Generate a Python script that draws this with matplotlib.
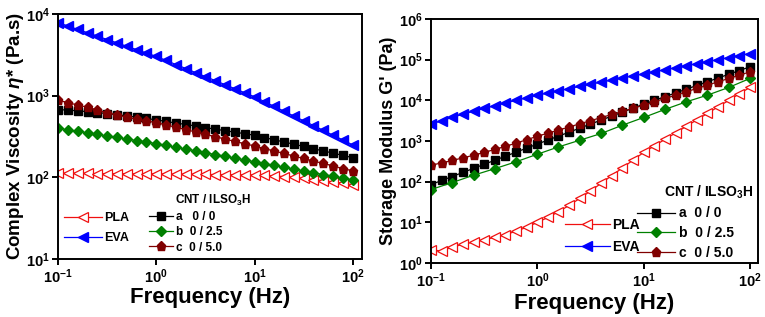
import matplotlib
matplotlib.use("Agg")
import matplotlib.pyplot as plt
from matplotlib.ticker import LogLocator, NullLocator

plt.rcParams['font.family'] = ['Liberation Sans', 'DejaVu Sans']
plt.rcParams['font.weight'] = 'bold'
plt.rcParams['axes.labelweight'] = 'bold'
plt.rcParams['mathtext.fontset'] = 'custom'
plt.rcParams['mathtext.rm'] = 'Liberation Sans:bold'
plt.rcParams['mathtext.it'] = 'Liberation Sans:bold:italic'
plt.rcParams['mathtext.bf'] = 'Liberation Sans:bold'
plt.rcParams['mathtext.default'] = 'rm'

# frequency grids (Hz)
freq = [0.1, 0.126, 0.158, 0.2, 0.251, 0.316, 0.398, 0.501, 0.631, 0.794,
        1.0, 1.26, 1.58, 2.0, 2.51, 3.16, 3.98, 5.01, 6.31, 7.94,
        10.0, 12.6, 15.8, 20.0, 25.1, 31.6, 39.8, 50.1, 63.1, 79.4, 100.0]
freq_b = [0.1, 0.158, 0.251, 0.398, 0.631, 1.0, 1.58, 2.51, 3.98, 6.31,
          10.0, 15.8, 25.1, 39.8, 63.1, 100.0]

# complex viscosity (Pa.s)
eta_pla = [112, 112, 112, 111.5, 111, 111, 111, 110.5, 110, 110,
           110, 109.5, 109, 109, 108.5, 108.5, 108, 108, 107.5, 107,
           107, 106, 104, 102, 100, 97, 94, 91, 88, 85, 81]
eta_eva = [7834, 7129, 6471, 5888, 5346, 4864, 4426, 4018, 3656, 3319,
           3020, 2697, 2404, 2148, 1914, 1710, 1528, 1361, 1216, 1084,
           968, 845, 738, 644, 562, 492, 430, 375, 327, 286, 249]
eta_a = [675, 665, 652, 637, 621, 603, 584, 565, 545, 525,
         505, 483, 462, 444, 425, 406, 389, 372, 357, 342,
         327, 307, 288, 271, 254, 239, 224, 210, 198, 185, 174]
eta_b = [399, 382, 366, 351, 336, 321, 308, 294, 282, 270,
         259, 246, 233, 222, 211, 200, 190, 181, 172, 163,
         155, 147, 140, 133, 126, 120, 114, 108, 103, 98, 93]
eta_c = [885, 820, 769, 721, 668, 619, 581, 544, 515, 490,
         468, 438, 410, 384, 359, 336, 315, 294, 275, 258,
         242, 225, 210, 196, 182, 170, 158, 148, 138, 128, 120]

# storage modulus (Pa)
g_pla = [2.13, 1.96, 2.47, 2.87, 3.27, 3.73, 4.27, 5.01, 6.03, 7.59,
         10.0, 13.2, 18.2, 26.3, 38.9, 58.9, 91.2, 141, 219, 339,
         525, 759, 1096, 1585, 2291, 3311, 4786, 6918, 10000, 14450, 20890]
g_eva = [2594, 3155, 3811, 4560, 5395, 6339, 7413, 8630, 10000, 11560,
         13340, 15170, 17220, 19500, 22030, 24890, 28050, 31620, 35560, 39990,
         44870, 50350, 56490, 63390, 71120, 79800, 89540, 100460, 112720, 126470, 141910]
g_a = [85, 107, 134, 169, 212, 267, 336, 423, 532, 668,
       841, 1054, 1321, 1656, 2075, 2606, 3266, 4093, 5129, 6427,
       8054, 9954, 12300, 15200, 18790, 23230, 28640, 35400, 43750, 54080, 66830]
g_b = [64, 95, 144, 209, 309, 473, 716, 1047, 1531, 2449,
       3793, 5970, 9183, 13430, 20800, 34590]
g_c = [254, 290, 333, 385, 448, 525, 621, 740, 889, 1076,
       1312, 1565, 1866, 2223, 2655, 3162, 3767, 4498, 5358, 6397,
       7621, 9204, 11120, 13430, 16220, 19590, 23660, 28580, 34510, 41690, 50350]

labels_left = ['a   0 / 0', 'b  0 / 2.5', 'c  0 / 5.0']
labels_right = ['a  0 / 0', 'b  0 / 2.5', 'c  0 / 5.0']

RED = '#f01010'
BLUE = '#0000ff'
GREEN = '#008000'
DARKRED = '#800000'

fig = plt.figure(figsize=(7.65, 3.17), dpi=100)
ax1 = fig.add_axes([0.0758, 0.183, 0.3974, 0.773])
ax2 = fig.add_axes([0.5634, 0.1703, 0.4275, 0.7697])


def style_axis(ax):
    ax.set_xscale('log')
    ax.set_yscale('log')
    for s in ax.spines.values():
        s.set_linewidth(1.4)
    ax.xaxis.set_major_locator(LogLocator(base=10, numticks=10))
    ax.yaxis.set_major_locator(LogLocator(base=10, numticks=10))
    ax.xaxis.set_minor_locator(NullLocator())
    ax.yaxis.set_minor_locator(NullLocator())
    ax.tick_params(which='major', direction='out', length=4, width=1.4,
                   labelsize=10.5, pad=2)


def draw(ax, pla, eva, a, b, c, fb, ms):
    l_pla, = ax.plot(freq, pla, color=RED, marker='<', mfc='white', mec=RED,
                     ms=ms + 1, lw=0.9, mew=0.9)
    l_eva, = ax.plot(freq, eva, color=BLUE, marker='<', mfc=BLUE, mec=BLUE,
                     ms=ms + 1, lw=0.9)
    l_a, = ax.plot(freq, a, color='black', marker='s', ms=ms - 0.5, lw=0.9)
    l_b, = ax.plot(fb, b, color=GREEN, marker='D', ms=ms - 0.5, lw=0.9)
    l_c, = ax.plot(freq, c, color=DARKRED, marker='p', ms=ms + 0.5, lw=0.9)
    return [l_pla, l_eva], [l_a, l_b, l_c]


# left panel: complex viscosity
style_axis(ax1)
h1, h2 = draw(ax1, eta_pla, eta_eva, eta_a, eta_b, eta_c, freq, 6)
ax1.set_xlim(0.1, 124)
ax1.set_ylim(10, 1e4)
ax1.set_xlabel('Frequency (Hz)', fontsize=16, labelpad=1)
ax1.set_ylabel(r'Complex Viscosity $\mathit{\eta}$* (Pa.s)', fontsize=13.5, labelpad=0)
leg1 = ax1.legend(h1, ['PLA', 'EVA'], loc='upper left', bbox_to_anchor=(0.02, 0.19),
                  frameon=False, fontsize=9, handlelength=3.0, handletextpad=0.2,
                  labelspacing=0.6, borderpad=0, borderaxespad=0)
ax1.add_artist(leg1)
ax1.legend(h2, labels_left, loc='upper left', bbox_to_anchor=(0.30, 0.196),
           frameon=False, fontsize=8.5, handlelength=2.0, handletextpad=0.25,
           labelspacing=0.28, borderpad=0, borderaxespad=0)
ax1.text(0.385, 0.238, r'CNT / ILSO$_3$H', transform=ax1.transAxes,
         fontsize=8.5, va='center', ha='left')

# right panel: storage modulus
style_axis(ax2)
h1, h2 = draw(ax2, g_pla, g_eva, g_a, g_b, g_c, freq_b, 6)
ax2.set_xlim(0.1, 119)
ax2.set_ylim(1, 1e6)
ax2.set_xlabel('Frequency (Hz)', fontsize=16, labelpad=2)
ax2.set_ylabel("Storage Modulus G' (Pa)", fontsize=13, labelpad=1)
leg3 = ax2.legend(h1, ['PLA', 'EVA'], loc='upper left', bbox_to_anchor=(0.41, 0.185),
                  frameon=False, fontsize=10, handlelength=3.2, handletextpad=0.2,
                  labelspacing=0.55, borderpad=0, borderaxespad=0)
ax2.add_artist(leg3)
ax2.legend(h2, labels_right, loc='upper left', bbox_to_anchor=(0.63, 0.232),
           frameon=False, fontsize=10, handlelength=2.7, handletextpad=0.35,
           labelspacing=0.4, borderpad=0, borderaxespad=0)
ax2.text(0.713, 0.29, r'CNT / ILSO$_3$H', transform=ax2.transAxes,
         fontsize=10, va='center', ha='left')

fig.savefig('out.png', dpi=100)
